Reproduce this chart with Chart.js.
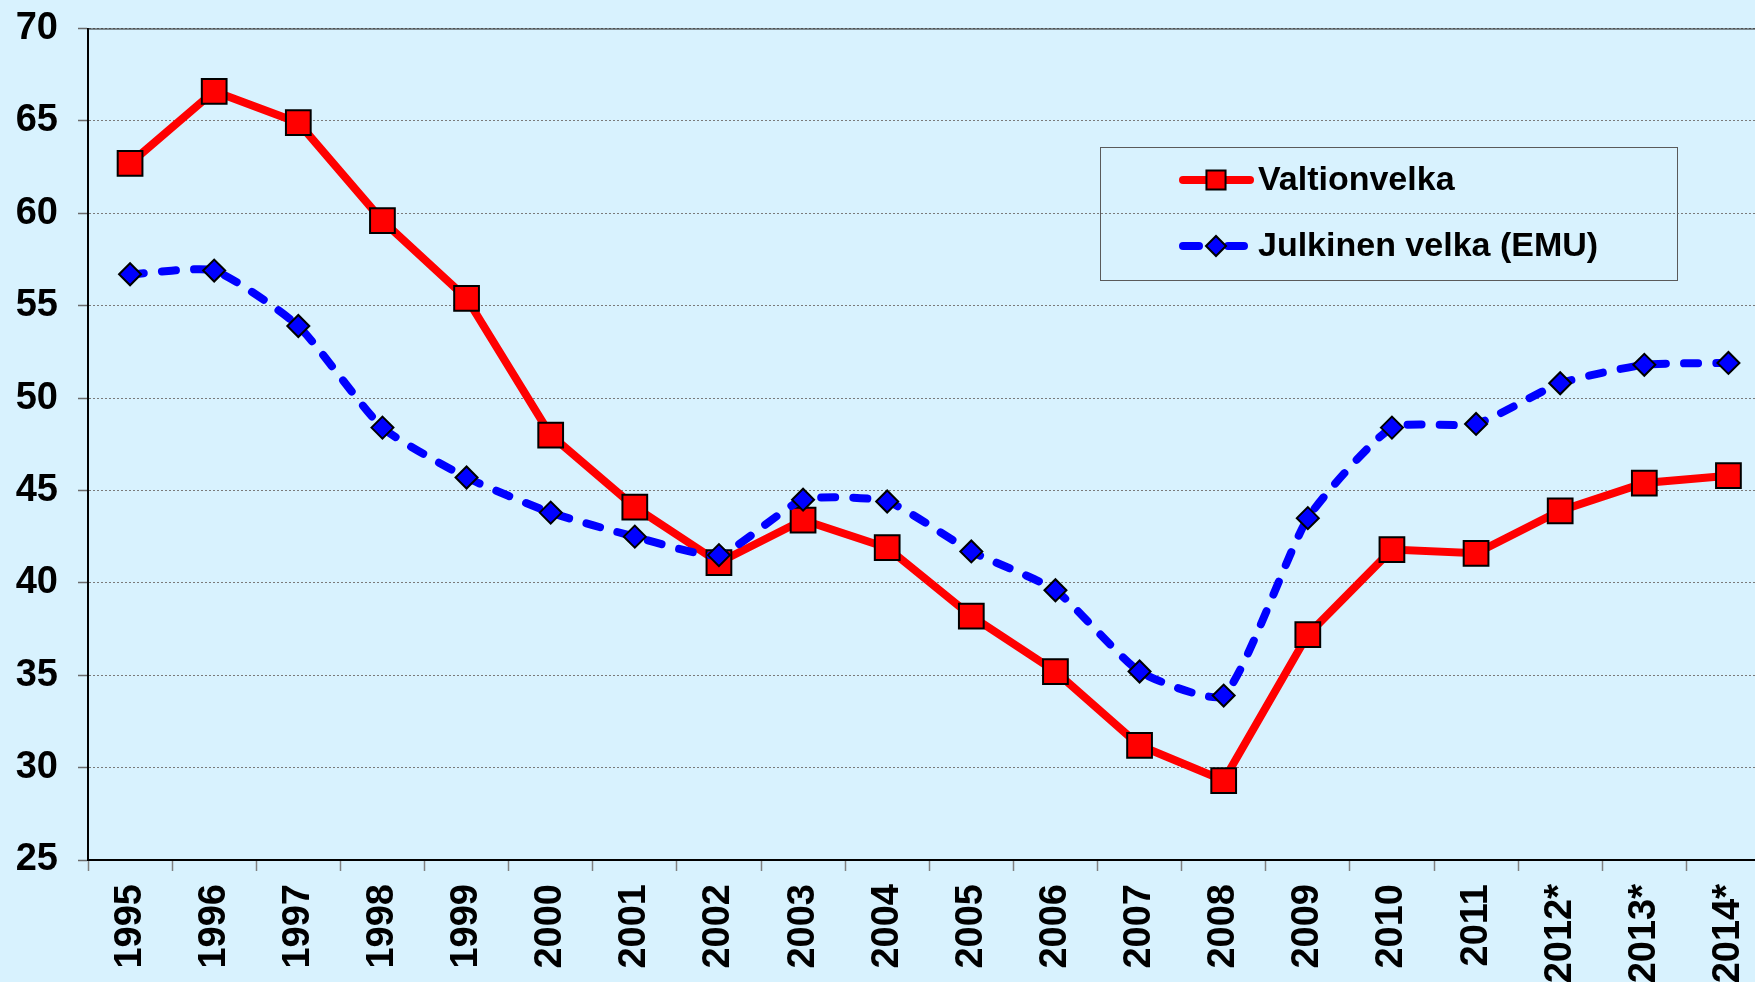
<!DOCTYPE html>
<html>
<head>
<meta charset="utf-8">
<script src="https://cdn.jsdelivr.net/npm/chart.js@4.4.1/dist/chart.umd.min.js"></script>
<style>
  html, body { margin: 0; padding: 0; background: #D8F2FE; overflow: hidden; width: 1755px; height: 982px; }
  #c { position: absolute; left: 0; top: 0; }
</style>
</head>
<body>
<canvas id="c" width="1790" height="982" style="width:1790px;height:982px"></canvas>
<script>
const categories = ['1995','1996','1997','1998','1999','2000','2001','2002','2003','2004','2005','2006','2007','2008','2009','2010','2011','2012*','2013*','2014*'];
const valtionvelka = [62.7, 66.6, 64.9, 59.6, 55.4, 48.0, 44.1, 41.1, 43.4, 41.9, 38.2, 35.2, 31.2, 29.3, 37.2, 41.8, 41.6, 43.9, 45.4, 45.8];
const julkinenVelka = [56.7, 56.9, 53.9, 48.4, 45.7, 43.8, 42.5, 41.5, 44.5, 44.4, 41.7, 39.6, 35.2, 33.9, 43.5, 48.4, 48.6, 50.8, 51.8, 51.9];
const seriesNames = ['Valtionvelka', 'Julkinen velka (EMU)'];
const yMin = 25, yMax = 70, yStep = 5;

const FONT = "'Liberation Sans', Arial, sans-serif";

const bgPlugin = {
  id: 'bg',
  beforeDraw(chart) {
    const ctx = chart.ctx;
    ctx.save();
    ctx.fillStyle = '#D8F2FE';
    ctx.fillRect(0, 0, chart.width, chart.height);
    ctx.restore();
  }
};

const framePlugin = {
  id: 'frame',
  beforeDatasetsDraw(chart) {
    const {ctx, chartArea} = chart;
    ctx.save();
    ctx.strokeStyle = '#222';
    ctx.lineWidth = 1.2;
    ctx.beginPath();
    ctx.moveTo(chartArea.left, chartArea.top + 0.5);
    ctx.lineTo(chartArea.right, chartArea.top + 0.5);
    ctx.stroke();
    ctx.restore();
  }
};

const legendPlugin = {
  id: 'customLegend',
  afterDraw(chart) {
    const ctx = chart.ctx;
    const bx = 1100, by = 147, bw = 577, bh = 133;
    ctx.save();
    ctx.strokeStyle = '#5a5a5a';
    ctx.lineWidth = 1;
    ctx.strokeRect(bx + 0.5, by + 0.5, bw, bh);
    const rows = [180, 246];
    chart.data.datasets.forEach((ds, i) => {
      const y = rows[i];
      ctx.save();
      ctx.strokeStyle = ds.borderColor;
      ctx.lineWidth = ds.borderWidth;
      ctx.lineCap = 'round';
      if (ds.borderDash && ds.borderDash.length) {
        ctx.setLineDash([16, 14, 1, 14]);
      }
      ctx.beginPath();
      ctx.moveTo(1183, y);
      ctx.lineTo(1250, y);
      ctx.stroke();
      ctx.restore();
      ctx.save();
      ctx.fillStyle = ds.pointBackgroundColor;
      ctx.strokeStyle = ds.pointBorderColor;
      ctx.lineWidth = 2;
      const r = ds.pointStyle === 'rect' ? 13.5 : 10;
      Chart.helpers.drawPoint(ctx, {pointStyle: ds.pointStyle, rotation: 0, borderWidth: 2, radius: r}, 1216, y);
      ctx.restore();
      ctx.save();
      ctx.fillStyle = '#000';
      ctx.font = 'bold 34px ' + FONT;
      ctx.textBaseline = 'middle';
      ctx.textAlign = 'left';
      ctx.fillText(ds.label, 1258, y + 1);
      ctx.restore();
    });
    ctx.restore();
  }
};

function zeroPadding(scale) {
  scale.paddingTop = 0;
  scale.paddingBottom = 0;
  scale.paddingLeft = 0;
  scale.paddingRight = 0;
}

const chart = new Chart(document.getElementById('c'), {
  type: 'line',
  data: {
    labels: categories,
    datasets: [
      {
        label: seriesNames[0],
        data: valtionvelka,
        borderColor: '#FF0000',
        backgroundColor: '#FF0000',
        borderWidth: 8,
        tension: 0,
        pointStyle: 'rect',
        pointRadius: 17.5,
        pointBackgroundColor: '#FF0000',
        pointBorderColor: '#000000',
        pointBorderWidth: 2,
        order: 1,
        fill: false
      },
      {
        label: seriesNames[1],
        data: julkinenVelka,
        borderColor: '#0000FF',
        backgroundColor: '#0000FF',
        borderWidth: 8,
        borderDash: [14, 18],
        borderCapStyle: 'round',
        tension: 0.18,
        pointStyle: 'rectRot',
        pointRadius: 11,
        pointBackgroundColor: '#0000FF',
        pointBorderColor: '#000000',
        pointBorderWidth: 2,
        order: 0,
        fill: false
      }
    ]
  },
  options: {
    responsive: false,
    maintainAspectRatio: false,
    animation: false,
    devicePixelRatio: 1,
    layout: { padding: { top: 28.5, left: 0, right: 0, bottom: 0 } },
    plugins: {
      legend: { display: false },
      tooltip: { enabled: false }
    },
    scales: {
      x: {
        type: 'category',
        offset: true,
        grid: {
          offset: true,
          drawOnChartArea: false,
          drawTicks: true,
          tickLength: 11,
          tickColor: '#808080',
          tickWidth: 1.5
        },
        border: { display: true, color: '#000', width: 2 },
        ticks: {
          autoSkip: false,
          minRotation: 90,
          maxRotation: 90,
          padding: 13,
          color: '#000',
          font: { family: FONT, size: 38, weight: 'bold' }
        },
        afterFit(scale) { scale.height = 122; zeroPadding(scale); }
      },
      y: {
        min: yMin,
        max: yMax,
        ticks: {
          stepSize: yStep,
          padding: 20,
          color: '#000',
          font: { family: FONT, size: 38, weight: 'bold' }
        },
        grid: {
          color: '#7a7a7a',
          lineWidth: 1,
          drawTicks: true,
          tickLength: 10,
          tickColor: '#6a6a6a',
          tickWidth: 1.5,
          tickBorderDash: []
        },
        border: { display: true, color: '#000', width: 2, dash: [2, 2] },
        afterFit(scale) { scale.width = 88; zeroPadding(scale); }
      }
    }
  },
  plugins: [bgPlugin, framePlugin, legendPlugin]
});
</script>
</body>
</html>
